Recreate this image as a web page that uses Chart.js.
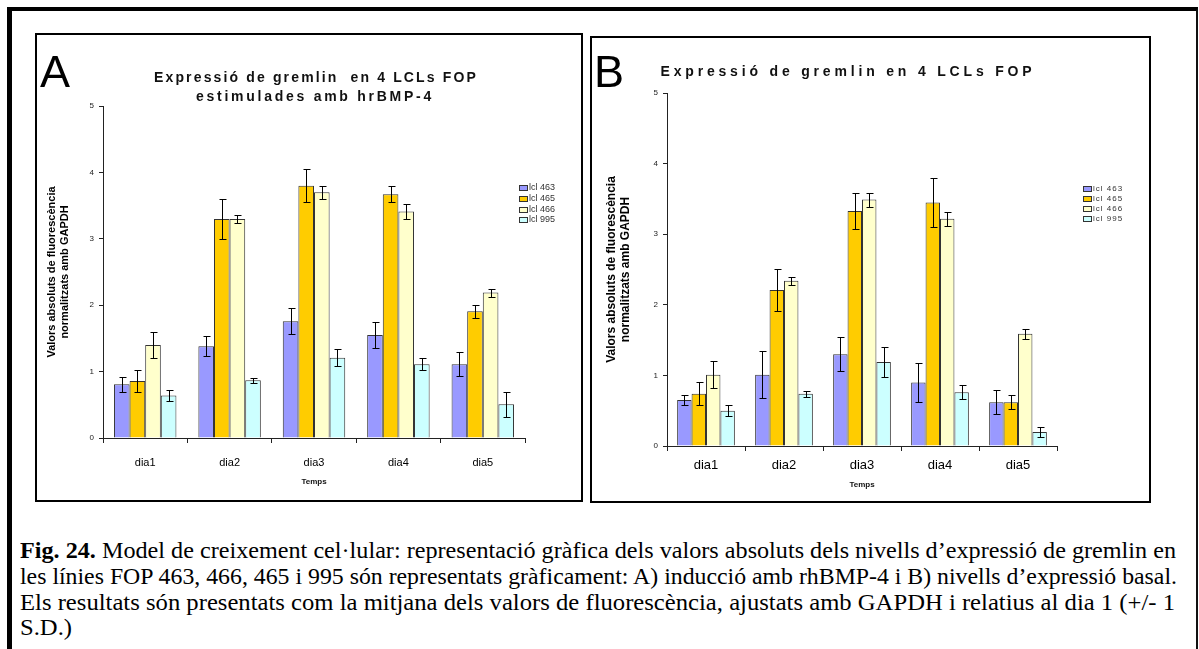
<!DOCTYPE html>
<html>
<head>
<meta charset="utf-8">
<script src="https://cdn.jsdelivr.net/npm/chart.js@4.4.0/dist/chart.umd.min.js"></script>
<style>
  html, body { margin: 0; padding: 0; background: #fff; }
  body { width: 1199px; height: 649px; position: relative; overflow: hidden; font-family: "Liberation Sans", Arial, sans-serif; color: #000; }
  #frame { position: absolute; left: 7px; top: 7px; width: 1191px; height: 700px; box-sizing: border-box;
           border-left: 5px solid #000; border-top: 4px solid #000; border-right: 2px solid #111; }
  .panel { position: absolute; border: 2px solid #000; box-sizing: border-box; background: #fff; }
  #panelA { left: 35px; top: 33px; width: 548px; height: 469px; }
  #panelB { left: 590px; top: 36px; width: 561px; height: 467px; }
  .panel canvas { position: absolute; left: 0; top: 0; }
  .letter { position: absolute; font-size: 45px; line-height: 1; white-space: nowrap; }
  .title { position: absolute; font-weight: bold; font-size: 14px; line-height: 16px; white-space: nowrap; color: #111; }
  .caption { position: absolute; left: 20px; font-family: "Liberation Serif", "Times New Roman", serif; font-size: 23px;
             line-height: 26px; white-space: nowrap; transform-origin: 0 0; }
</style>
</head>
<body>
<div id="frame"></div>
<div class="panel" id="panelA"><canvas id="chartA" width="544" height="465"></canvas></div>
<div class="panel" id="panelB"><canvas id="chartB" width="557" height="463"></canvas></div>

<div class="letter" style="left:40px; top:49px;">A</div>
<div class="letter" style="left:594px; top:49px;">B</div>

<div class="title" data-cx="316" data-w="324" style="top:69px;">Expressió de gremlin&nbsp; en 4 LCLs FOP</div>
<div class="title" data-cx="315" data-w="238" style="top:88px;">estimulades amb hrBMP-4</div>
<div class="title" data-cx="848" data-w="375" style="top:63px;">Expressió de gremlin en 4 LCLs FOP</div>

<div class="caption" data-w="1156" style="top:538px;"><b>Fig. 24.</b> Model de creixement cel·lular: representació gràfica dels valors absoluts dels nivells d’expressió de gremlin en</div>
<div class="caption" data-w="1157" style="top:564px;">les línies FOP 463, 466, 465 i 995 són representats gràficament: A) inducció amb rhBMP-4 i B) nivells d’expressió basal.</div>
<div class="caption" data-w="1155" style="top:590px;">Els resultats són presentats com la mitjana dels valors de fluorescència, ajustats amb GAPDH i relatius al dia 1 (+/- 1</div>
<div class="caption" style="top:615px;">S.D.)</div>

<script>
const days = ["dia1", "dia2", "dia3", "dia4", "dia5"];
const cellLines = ["lcl 463", "lcl 465", "lcl 466", "lcl 995"];
const fills = ["#9999FF", "#FFCC00", "#FFFFCC", "#CCFFFF"];
const yTicks = [0, 1, 2, 3, 4, 5];

// A: stimulated with hrBMP-4 (mean and SD per day)
const stimMean463 = [0.81, 1.38, 1.76, 1.55, 1.11];
const stimMean465 = [0.86, 3.30, 3.80, 3.67, 1.91];
const stimMean466 = [1.40, 3.30, 3.70, 3.41, 2.19];
const stimMean995 = [0.64, 0.87, 1.21, 1.11, 0.51];
const stimSd463 = [0.11, 0.15, 0.20, 0.19, 0.18];
const stimSd465 = [0.16, 0.30, 0.25, 0.12, 0.10];
const stimSd466 = [0.20, 0.06, 0.10, 0.11, 0.06];
const stimSd995 = [0.08, 0.04, 0.13, 0.09, 0.19];

// B: basal expression
const basalMean463 = [0.65, 1.01, 1.30, 0.90, 0.62];
const basalMean465 = [0.74, 2.21, 3.33, 3.45, 0.62];
const basalMean466 = [1.01, 2.34, 3.49, 3.22, 1.59];
const basalMean995 = [0.50, 0.74, 1.19, 0.76, 0.20];
const basalSd463 = [0.07, 0.33, 0.24, 0.27, 0.17];
const basalSd465 = [0.16, 0.30, 0.26, 0.35, 0.10];
const basalSd466 = [0.19, 0.06, 0.10, 0.10, 0.07];
const basalSd995 = [0.08, 0.04, 0.21, 0.10, 0.07];

const yTitle = ["Valors absoluts de fluorescència", "normalitzats amb GAPDH"];

// +/- 1 SD whiskers on top of every bar
const errorBars = {
  id: "errorBars",
  afterDatasetsDraw(chart) {
    const ctx = chart.ctx;
    const y = chart.scales.y;
    ctx.save();
    ctx.strokeStyle = "#000";
    ctx.lineWidth = 1;
    chart.data.datasets.forEach((ds, di) => {
      chart.getDatasetMeta(di).data.forEach((bar, i) => {
        const v = ds.data[i];
        const e = ds.sd[i];
        const top = Math.round(y.getPixelForValue(v + e)) + 0.5;
        const bot = Math.round(y.getPixelForValue(v - e)) + 0.5;
        const x = Math.round(bar.x) + 0.5;
        ctx.beginPath();
        ctx.moveTo(x, top);
        ctx.lineTo(x, bot);
        ctx.moveTo(x - 3, top);
        ctx.lineTo(x + 4, top);
        ctx.moveTo(x - 3, bot);
        ctx.lineTo(x + 4, bot);
        ctx.stroke();
      });
    });
    ctx.restore();
  }
};

// small legend box next to the top right of the plot
const sideLegend = {
  id: "sideLegend",
  afterDraw(chart, args, opts) {
    const { ctx, chartArea } = chart;
    ctx.save();
    ctx.font = opts.font;
    if ("letterSpacing" in ctx) ctx.letterSpacing = opts.spacing;
    ctx.textBaseline = "middle";
    chart.data.datasets.forEach((ds, i) => {
      const x = Math.round(chartArea.right + opts.dx);
      const y = Math.round(chartArea.top + opts.dy + i * opts.step);
      ctx.fillStyle = ds.backgroundColor;
      ctx.fillRect(x, y - 3, 9, 6);
      ctx.strokeStyle = "#333";
      ctx.lineWidth = 1;
      ctx.strokeRect(x + 0.5, y - 2.5, 8, 5);
      ctx.fillStyle = "#333";
      ctx.fillText(ds.label, x + 10, y);
    });
    ctx.restore();
  }
};

function makeChart(id, means, sds, g) {
  const canvas = document.getElementById(id);
  return new Chart(canvas, {
    type: "bar",
    data: {
      labels: days,
      datasets: cellLines.map((name, i) => ({
        label: name,
        data: means[i],
        sd: sds[i],
        backgroundColor: fills[i],
        borderColor: "#333",
        borderWidth: 1,
        borderSkipped: "bottom",
        categoryPercentage: 0.74,
        barPercentage: 1.0
      }))
    },
    plugins: [errorBars, sideLegend],
    options: {
      responsive: false,
      animation: false,
      events: [],
      devicePixelRatio: 1,
      layout: { padding: { left: 0, top: g.top, right: canvas.width - g.right, bottom: 0 } },
      plugins: {
        legend: { display: false },
        tooltip: { enabled: false },
        sideLegend: g.legend
      },
      scales: {
        x: {
          afterFit: (s) => { s.height = canvas.height - g.bottom; },
          border: { display: true, color: "#222", width: 1 },
          grid: { drawOnChartArea: false, drawTicks: true, tickLength: 5, color: "#222" },
          ticks: { color: "#000", font: { family: "Liberation Sans", size: g.dayFont }, padding: g.dayPad, maxRotation: 0 },
          title: {
            display: true, text: "Temps", color: "#111",
            font: { family: "Liberation Sans", size: 8, weight: "bold" },
            padding: { top: 0, bottom: g.tempsPad }
          }
        },
        y: {
          min: 0,
          max: yTicks[yTicks.length - 1],
          afterFit: (s) => { s.width = g.left; },
          afterBuildTicks: (s) => { s.ticks = yTicks.map((v) => ({ value: v })); },
          border: { display: true, color: "#222", width: 1 },
          grid: { drawOnChartArea: false, drawTicks: true, tickLength: 4, color: "#222" },
          ticks: { color: "#222", font: { family: "Liberation Sans", size: 8 }, padding: 5 },
          title: {
            display: true, text: yTitle, color: "#000",
            font: { family: "Liberation Sans", size: g.yTitleFont, weight: "bold", lineHeight: 1.2 },
            padding: { top: g.yTitlePad, bottom: 0 }
          }
        }
      }
    }
  });
}

makeChart("chartA",
  [stimMean463, stimMean465, stimMean466, stimMean995],
  [stimSd463, stimSd465, stimSd466, stimSd995],
  {
    left: 66, right: 488, top: 71, bottom: 403,
    dayFont: 11, dayPad: 13, tempsPad: 13, yTitleFont: 11, yTitlePad: 8,
    legend: { dx: -6, dy: 82, step: 10.8, font: "9px 'Liberation Sans'", spacing: "0px" }
  });

makeChart("chartB",
  [basalMean463, basalMean465, basalMean466, basalMean995],
  [basalSd463, basalSd465, basalSd466, basalSd995],
  {
    left: 75, right: 465, top: 55, bottom: 408,
    dayFont: 13, dayPad: 7, tempsPad: 11, yTitleFont: 12, yTitlePad: 12,
    legend: { dx: 26, dy: 96, step: 10, font: "8px 'Liberation Sans'", spacing: "1px" }
  });

// stretch the letter-spaced titles and squeeze the justified caption lines to their widths
document.querySelectorAll(".title").forEach((el) => {
  const n = el.textContent.length;
  const natural = el.getBoundingClientRect().width;
  const target = +el.dataset.w;
  el.style.letterSpacing = ((target - natural) / n) + "px";
  const w = el.getBoundingClientRect().width;
  el.style.left = (+el.dataset.cx - w / 2) + "px";
});
let lastScale = 1;
document.querySelectorAll(".caption").forEach((el) => {
  const natural = el.getBoundingClientRect().width;
  const k = el.dataset.w ? +el.dataset.w / natural : lastScale;
  lastScale = k;
  el.style.transform = "scaleX(" + k + ")";
});
</script>
</body>
</html>
